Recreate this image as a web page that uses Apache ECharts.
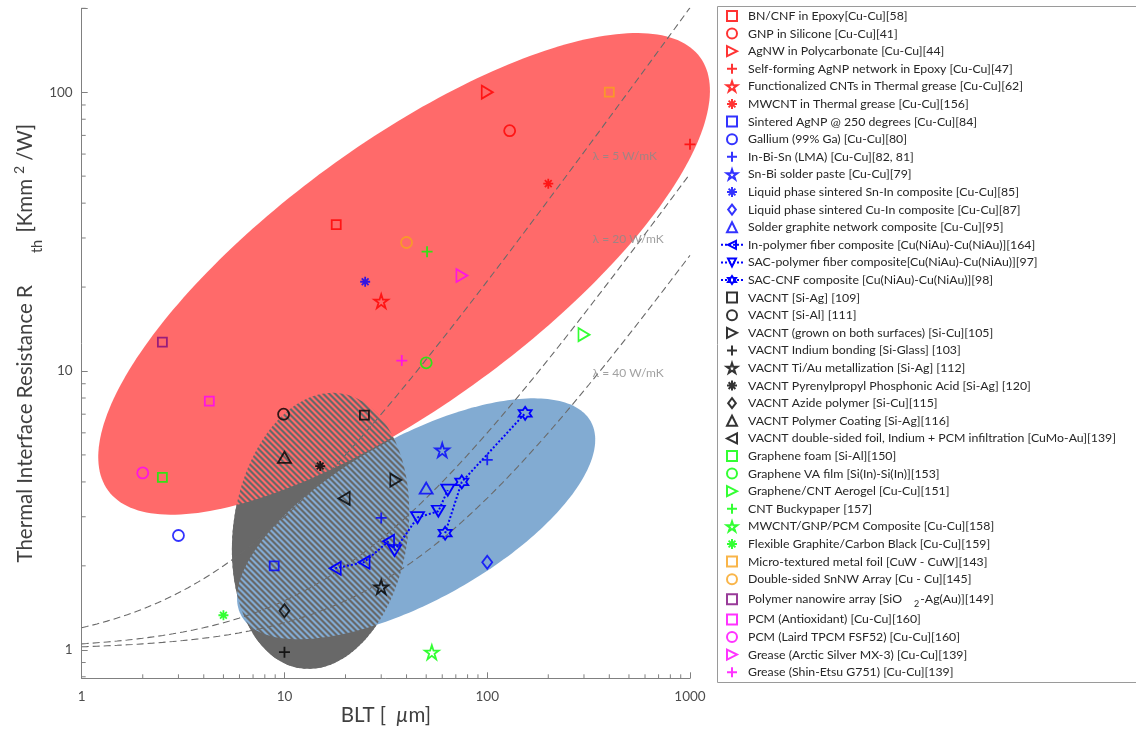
<!DOCTYPE html>
<html>
<head>
<meta charset="utf-8">
<script src="https://cdn.jsdelivr.net/npm/echarts@6/dist/echarts.min.js"></script>
<style>
  html, body { margin: 0; padding: 0; background: #ffffff; overflow: hidden; }
  #chart { width: 1136px; height: 735px; }
</style>
</head>
<body>
<div id="chart"></div>
<script>
// Bond line thickness BLT [µm] versus thermal interface resistance R_th [K mm²/W]
// Each array holds [BLT, R_th] pairs for one material system.

// polymer composites / greases
const BN_CNF_EPOXY      = [[18, 33.5]];
const GNP_SILICONE      = [[129, 72.8]];
const AGNW_PC           = [[100, 100]];
const AGNP_NETWORK      = [[1000, 65]];
const FCNT_GREASE       = [[30, 17.8]];
const MWCNT_GREASE      = [[200, 47]];
// metallic / solder based
const SINTERED_AGNP     = [[8.9, 2.0]];
const GALLIUM           = [[3, 2.57]];
const IN_BI_SN          = [[30, 2.97], [100, 4.8]];
const SN_BI_PASTE       = [[60, 5.2]];
const SN_IN_LPS         = [[25, 20.9]];
const CU_IN_LPS         = [[100, 2.06]];
const SOLDER_GRAPHITE   = [[50, 3.8]];
const IN_POLYMER_FIBER  = [[17.8, 1.96], [24.7, 2.06], [32.6, 2.45]];
const SAC_POLYMER_FIBER = [[34.9, 2.27], [45.3, 2.98], [57.4, 3.14], [63.9, 3.74]];
const SAC_CNF           = [[62, 2.62], [74.9, 4.0], [153.8, 7.05]];
// vertically aligned CNT arrays
const VACNT_SI_AG       = [[24.8, 6.95]];
const VACNT_SI_AL       = [[9.9, 7.0]];
const VACNT_BOTH_SIDES  = [[35.4, 4.06]];
const VACNT_INDIUM      = [[10, 0.98]];
const VACNT_TI_AU       = [[30, 1.68]];
const VACNT_PYRENYL     = [[15, 4.56]];
const VACNT_AZIDE       = [[10, 1.38]];
const VACNT_POLY_COAT   = [[10, 4.9]];
const VACNT_FOIL        = [[19.7, 3.49]];
// carbon / graphene
const GRAPHENE_FOAM     = [[2.5, 4.15]];
const GRAPHENE_VA       = [[50, 10.7]];
const GRAPHENE_AEROGEL  = [[300, 13.5]];
const CNT_BUCKYPAPER    = [[50.5, 26.8]];
const MWCNT_GNP_PCM     = [[53.3, 0.98]];
const GRAPHITE_CB       = [[5, 1.33]];
// others
const METAL_FOIL        = [[400, 100]];
const SNNW_ARRAY        = [[40, 28.9]];
const NANOWIRE_ARRAY    = [[2.5, 12.7]];
const PCM_ANTIOXIDANT   = [[4.26, 7.8]];
const PCM_LAIRD         = [[2, 4.31]];
const GREASE_ARCTIC     = [[75, 22]];
const GREASE_SHINETSU   = [[37.9, 10.9]];

// guide curves R = BLT / lambda + R_contact
const LAMBDA_VALUES      = [5, 20, 40];          // W/mK
const CONTACT_RESISTANCE = 1;                    // K mm²/W
const LAMBDA_LABEL_ANCHORS = [[329, 59.2], [329, 29.6], [329, 9.83]];

// axes
const X_MIN = 1, X_MAX = 1000;
const Y_MIN = 0.79, Y_MAX = 200;
const X_MAJOR_TICKS = [1, 10, 100, 1000];
const Y_MAJOR_TICKS = [1, 10, 100];
const X_MINOR_TICKS = [2, 3, 4, 5, 6, 7, 8, 9, 20, 30, 40, 50, 60, 70, 80, 90, 200, 300, 400, 500, 600, 700, 800, 900];
const Y_MINOR_TICKS = [0.8, 0.9, 2, 3, 4, 5, 6, 7, 8, 9, 20, 30, 40, 50, 60, 70, 80, 90, 200];

// ---------------------------------------------------------------------------
const FONT = 'Lato, "Open Sans", sans-serif';
const RED = '#ff0000', BLUE = '#0000ff', BLACK = '#000000', GREEN = '#00ff00',
      ORANGE = '#f7a21b', PURPLE = '#7f0a7f', MAGENTA = '#ff00ff';
const AXIS_GREY = '#808080';
const TITLE_COLOR = '#404040';

function starPath(n, rOut, rIn) {
  let d = '';
  for (let i = 0; i < 2 * n; i++) {
    const r = i % 2 ? rIn : rOut;
    const a = -Math.PI / 2 + i * Math.PI / n;
    d += (i ? 'L' : 'M') + (r * Math.cos(a)).toFixed(3) + ',' + (r * Math.sin(a)).toFixed(3);
  }
  return 'path://' + d + 'Z';
}

const MARKERS = {
  square:    { symbol: 'path://M0,0L10,0L10,10L0,10Z', size: 9 },
  circle:    { symbol: 'circle', size: 11 },
  triRight:  { symbol: 'path://M0,0L10,5L0,10Z', size: [11, 13] },
  triLeft:   { symbol: 'path://M10,0L0,5L10,10Z', size: [11, 13] },
  triUp:     { symbol: 'path://M5,0L10,10L0,10Z', size: [13, 11] },
  triDown:   { symbol: 'path://M0,0L10,0L5,10Z', size: [13, 11] },
  diamond:   { symbol: 'path://M5,0L10,6.5L5,13L0,6.5Z', size: [10, 13] },
  plus:      { symbol: 'path://M5,0L5,10M0,5L10,5', size: 11 },
  asterisk:  { symbol: 'path://M5,0L5,10M0,5L10,5M1.6,1.6L8.4,8.4M1.6,8.4L8.4,1.6', size: 10 },
  pentagram: { symbol: starPath(5, 10, 3.82), size: 14 },
  hexagram:  { symbol: starPath(6, 10, 5.77), size: 13 }
};

const SERIES_DEFS = [
  { name: 'BN/CNF in Epoxy[Cu-Cu][58]', data: BN_CNF_EPOXY, color: RED, marker: 'square' },
  { name: 'GNP in Silicone [Cu-Cu][41]', data: GNP_SILICONE, color: RED, marker: 'circle' },
  { name: 'AgNW in Polycarbonate [Cu-Cu][44]', data: AGNW_PC, color: RED, marker: 'triRight' },
  { name: 'Self-forming AgNP network in Epoxy [Cu-Cu][47]', data: AGNP_NETWORK, color: RED, marker: 'plus' },
  { name: 'Functionalized CNTs in Thermal grease [Cu-Cu][62]', data: FCNT_GREASE, color: RED, marker: 'pentagram' },
  { name: 'MWCNT in Thermal grease [Cu-Cu][156]', data: MWCNT_GREASE, color: RED, marker: 'asterisk' },
  { name: 'Sintered AgNP @ 250 degrees [Cu-Cu][84]', data: SINTERED_AGNP, color: BLUE, marker: 'square' },
  { name: 'Gallium (99% Ga) [Cu-Cu][80]', data: GALLIUM, color: BLUE, marker: 'circle' },
  { name: 'In-Bi-Sn (LMA) [Cu-Cu][82, 81]', data: IN_BI_SN, color: BLUE, marker: 'plus' },
  { name: 'Sn-Bi solder paste [Cu-Cu][79]', data: SN_BI_PASTE, color: BLUE, marker: 'pentagram' },
  { name: 'Liquid phase sintered Sn-In composite [Cu-Cu][85]', data: SN_IN_LPS, color: BLUE, marker: 'asterisk' },
  { name: 'Liquid phase sintered Cu-In composite [Cu-Cu][87]', data: CU_IN_LPS, color: BLUE, marker: 'diamond' },
  { name: 'Solder graphite network composite [Cu-Cu][95]', data: SOLDER_GRAPHITE, color: BLUE, marker: 'triUp' },
  { name: 'In-polymer fiber composite [Cu(NiAu)-Cu(NiAu)][164]', data: IN_POLYMER_FIBER, color: BLUE, marker: 'triLeft', line: true },
  { name: 'SAC-polymer fiber composite[Cu(NiAu)-Cu(NiAu)][97]', data: SAC_POLYMER_FIBER, color: BLUE, marker: 'triDown', line: true },
  { name: 'SAC-CNF composite [Cu(NiAu)-Cu(NiAu)][98]', data: SAC_CNF, color: BLUE, marker: 'hexagram', line: true },
  { name: 'VACNT [Si-Ag] [109]', data: VACNT_SI_AG, color: BLACK, marker: 'square' },
  { name: 'VACNT [Si-Al] [111]', data: VACNT_SI_AL, color: BLACK, marker: 'circle' },
  { name: 'VACNT (grown on both surfaces) [Si-Cu][105]', data: VACNT_BOTH_SIDES, color: BLACK, marker: 'triRight' },
  { name: 'VACNT Indium bonding [Si-Glass] [103]', data: VACNT_INDIUM, color: BLACK, marker: 'plus' },
  { name: 'VACNT Ti/Au metallization [Si-Ag] [112]', data: VACNT_TI_AU, color: BLACK, marker: 'pentagram' },
  { name: 'VACNT Pyrenylpropyl Phosphonic Acid [Si-Ag] [120]', data: VACNT_PYRENYL, color: BLACK, marker: 'asterisk' },
  { name: 'VACNT Azide polymer [Si-Cu][115]', data: VACNT_AZIDE, color: BLACK, marker: 'diamond' },
  { name: 'VACNT Polymer Coating [Si-Ag][116]', data: VACNT_POLY_COAT, color: BLACK, marker: 'triUp' },
  { name: 'VACNT double-sided foil, Indium + PCM infiltration [CuMo-Au][139]', data: VACNT_FOIL, color: BLACK, marker: 'triLeft' },
  { name: 'Graphene foam [Si-Al][150]', data: GRAPHENE_FOAM, color: GREEN, marker: 'square' },
  { name: 'Graphene VA film [Si(In)-Si(In)][153]', data: GRAPHENE_VA, color: GREEN, marker: 'circle' },
  { name: 'Graphene/CNT Aerogel [Cu-Cu][151]', data: GRAPHENE_AEROGEL, color: GREEN, marker: 'triRight' },
  { name: 'CNT Buckypaper [157]', data: CNT_BUCKYPAPER, color: GREEN, marker: 'plus' },
  { name: 'MWCNT/GNP/PCM Composite [Cu-Cu][158]', data: MWCNT_GNP_PCM, color: GREEN, marker: 'pentagram' },
  { name: 'Flexible Graphite/Carbon Black [Cu-Cu][159]', data: GRAPHITE_CB, color: GREEN, marker: 'asterisk' },
  { name: 'Micro-textured metal foil [CuW - CuW][143]', data: METAL_FOIL, color: ORANGE, marker: 'square' },
  { name: 'Double-sided SnNW Array [Cu - Cu][145]', data: SNNW_ARRAY, color: ORANGE, marker: 'circle' },
  { name: 'Polymer nanowire array [SiO2-Ag(Au)][149]', data: NANOWIRE_ARRAY, color: PURPLE, marker: 'square' },
  { name: 'PCM (Antioxidant) [Cu-Cu][160]', data: PCM_ANTIOXIDANT, color: MAGENTA, marker: 'square' },
  { name: 'PCM (Laird TPCM FSF52) [Cu-Cu][160]', data: PCM_LAIRD, color: MAGENTA, marker: 'circle' },
  { name: 'Grease (Arctic Silver MX-3) [Cu-Cu][139]', data: GREASE_ARCTIC, color: MAGENTA, marker: 'triRight' },
  { name: 'Grease (Shin-Etsu G751) [Cu-Cu][139]', data: GREASE_SHINETSU, color: MAGENTA, marker: 'plus' }
];

// Shaded performance regions: centre in data units, semi-axes in px, tilt in degrees.
const HATCH = (function () {
  const c = document.createElement('canvas');
  c.width = 6; c.height = 6;
  const g = c.getContext('2d');
  g.fillStyle = '#686868';
  for (const k of [-6, 0, 6]) {
    g.beginPath();
    g.moveTo(k, 0); g.lineTo(k + 3, 0); g.lineTo(k + 9, 6); g.lineTo(k + 6, 6);
    g.closePath(); g.fill();
  }
  return c;
})();

const REGIONS = [
  { center: [15.07, 2.67], a: 138.9, b: 87.3, tilt: 81.7, fill: '#686868' },
  { center: [38.9, 22.3], a: 366.8, b: 130.4, tilt: 36.2, fill: '#ff6a6a' },
  { center: [44.6, 2.95], a: 199.9, b: 81.4, tilt: 29.1, fill: '#82abd2' },
  { center: [15.07, 2.67], a: 138.9, b: 87.3, tilt: 81.7, fill: { image: HATCH, repeat: 'repeat' } }
];

function ellipsePoints(api, r) {
  const c = api.coord(r.center);
  const th = r.tilt * Math.PI / 180;
  const pts = [];
  for (let i = 0; i < 240; i++) {
    const t = i / 240 * 2 * Math.PI;
    const u = r.a * Math.cos(t), v = r.b * Math.sin(t);
    pts.push([c[0] + u * Math.cos(th) - v * Math.sin(th),
              c[1] - (u * Math.sin(th) + v * Math.cos(th))]);
  }
  return pts;
}

function guideCurve(lambda) {
  const pts = [];
  for (let i = 0; i <= 120; i++) {
    const blt = Math.pow(10, i / 40);
    pts.push([blt, blt / lambda + CONTACT_RESISTANCE]);
  }
  return pts;
}

function isMajor(ticks, v) {
  return ticks.some(t => Math.abs(t - v) / t < 1e-6);
}

const series = [];

series.push({
  type: 'custom', name: 'regions', silent: true, z: 1, clip: false,
  data: REGIONS.map(r => r.center),
  renderItem: function (params, api) {
    const r = REGIONS[params.dataIndex];
    return { type: 'polygon', shape: { points: ellipsePoints(api, r) }, style: { fill: r.fill } };
  }
});

LAMBDA_VALUES.forEach(function (lam) {
  series.push({
    type: 'line', name: 'lambda ' + lam, data: guideCurve(lam), symbol: 'none', silent: true, z: 2,
    lineStyle: { color: '#6a6a6a', width: 1.1, type: [7, 4] }, emphasis: { disabled: true }
  });
});

series.push({
  type: 'scatter', name: 'lambda labels', silent: true, z: 3, symbolSize: 1,
  itemStyle: { color: 'rgba(0,0,0,0)' },
  data: LAMBDA_LABEL_ANCHORS.map((p, i) => ({ value: p, name: '\u03bb = ' + LAMBDA_VALUES[i] + ' W/mK' })),
  label: { show: true, position: 'right', distance: 0, formatter: '{b}', color: '#8a8a8a', fontSize: 12, fontFamily: FONT }
});

series.push({
  type: 'custom', name: 'x minor ticks', silent: true, z: 4,
  data: X_MINOR_TICKS.map(v => [v, Y_MIN]),
  renderItem: function (params, api) {
    const p = api.coord([api.value(0), Y_MIN]);
    return { type: 'line', shape: { x1: p[0], y1: p[1], x2: p[0], y2: p[1] - 4 }, style: { stroke: AXIS_GREY, lineWidth: 1 } };
  }
});
series.push({
  type: 'custom', name: 'y minor ticks', silent: true, z: 4,
  data: Y_MINOR_TICKS.map(v => [X_MIN, v]),
  renderItem: function (params, api) {
    const p = api.coord([X_MIN, api.value(1)]);
    return { type: 'line', shape: { x1: p[0], y1: p[1], x2: p[0] + 4, y2: p[1] }, style: { stroke: AXIS_GREY, lineWidth: 1 } };
  }
});

SERIES_DEFS.forEach(function (d) {
  const m = MARKERS[d.marker];
  const s = {
    type: d.line ? 'line' : 'scatter',
    name: d.name,
    data: d.data,
    symbol: m.symbol,
    symbolSize: m.size,
    z: 5,
    silent: true,
    itemStyle: { color: 'rgba(0,0,0,0)', borderColor: d.color, borderWidth: 1.8 },
    emphasis: { disabled: true }
  };
  if (d.line) {
    s.showSymbol = true;
    s.lineStyle = { color: d.color, width: 2, type: 'dotted' };
  }
  series.push(s);
});

const chart = echarts.init(document.getElementById('chart'), null, { renderer: 'canvas' });
chart.setOption({
  animation: false,
  backgroundColor: '#ffffff',
  grid: { left: 81.7, right: 446, top: 8.3, bottom: 56.7, containLabel: false, outerBoundsMode: 'none' },
  // open-ended frame of the legend panel (left, top and bottom edges)
  graphic: [{
    type: 'polyline', z: -1, silent: true,
    shape: { points: [[1140, 6.5], [717.5, 6.5], [717.5, 682.5], [1140, 682.5]] },
    style: { fill: null, stroke: '#9a9a9a', lineWidth: 1 }
  }],
  xAxis: {
    type: 'log', logBase: 10, min: X_MIN, max: X_MAX,
    name: '{n|BLT [}{mu|\u00b5}{n|m]}',
    nameLocation: 'middle', nameGap: 27, nameMoveOverlap: false,
    nameTextStyle: {
      color: TITLE_COLOR, fontFamily: FONT, fontSize: 20.5,
      rich: {
        n: { fontFamily: FONT, fontSize: 20.5, color: TITLE_COLOR },
        mu: { fontFamily: FONT, fontSize: 20.5, color: TITLE_COLOR, fontStyle: 'italic', padding: [0, 0, 0, 10] }
      }
    },
    axisLine: { show: true, lineStyle: { color: AXIS_GREY, width: 1 } },
    axisTick: { show: true, inside: true, length: 6, lineStyle: { color: AXIS_GREY } },
    axisLabel: {
      margin: 11, color: '#4d4d4d', fontFamily: FONT, fontSize: 13.5,
      formatter: v => isMajor(X_MAJOR_TICKS, v) ? String(Math.round(v)) : ''
    },
    splitLine: { show: false }
  },
  yAxis: {
    type: 'log', logBase: 10, min: Y_MIN, max: Y_MAX,
    name: '{n|Thermal Interface Resistance R}{sub|th}{n| [Kmm}{sup|2}{n|/W]}',
    nameLocation: 'middle', nameRotate: 90, nameGap: 37, nameMoveOverlap: false,
    nameTextStyle: {
      color: TITLE_COLOR, fontFamily: FONT, fontSize: 20.5,
      rich: {
        n: { fontFamily: FONT, fontSize: 20.5, color: TITLE_COLOR },
        sub: { fontFamily: FONT, fontSize: 14.5, color: TITLE_COLOR, padding: [24, 2, 0, 32] },
        sup: { fontFamily: FONT, fontSize: 14, color: TITLE_COLOR, padding: [0, 5, 11, 5] }
      }
    },
    axisLine: { show: true, lineStyle: { color: AXIS_GREY, width: 1 } },
    axisTick: { show: true, inside: true, length: 6, lineStyle: { color: AXIS_GREY } },
    axisLabel: {
      margin: 9, color: '#4d4d4d', fontFamily: FONT, fontSize: 13.5,
      formatter: v => isMajor(Y_MAJOR_TICKS, v) ? String(Math.round(v)) : ''
    },
    splitLine: { show: false }
  },
  legend: {
    orient: 'vertical', left: 717, top: 6,
    padding: [3, 20, 2, 3],
    itemWidth: 22, itemHeight: 10, itemGap: 3.6,
    borderWidth: 0, backgroundColor: 'transparent',
    selectedMode: false,
    data: SERIES_DEFS.map(d => d.name),
    formatter: function (name) {
      if (name.indexOf('SiO2') >= 0) {
        const parts = name.split('SiO2');
        return '{n|' + parts[0] + 'SiO}{s|2}{n|' + parts[1] + '}';
      }
      return name;
    },
    textStyle: {
      fontFamily: FONT, fontSize: 12.3, color: '#262626', lineHeight: 14,
      rich: {
        n: { fontFamily: FONT, fontSize: 12.3, color: '#262626', lineHeight: 14 },
        s: { fontFamily: FONT, fontSize: 9, color: '#262626', lineHeight: 10, padding: [10, 1, 0, 12] }
      }
    }
  },
  series: series
});
</script>
</body>
</html>
